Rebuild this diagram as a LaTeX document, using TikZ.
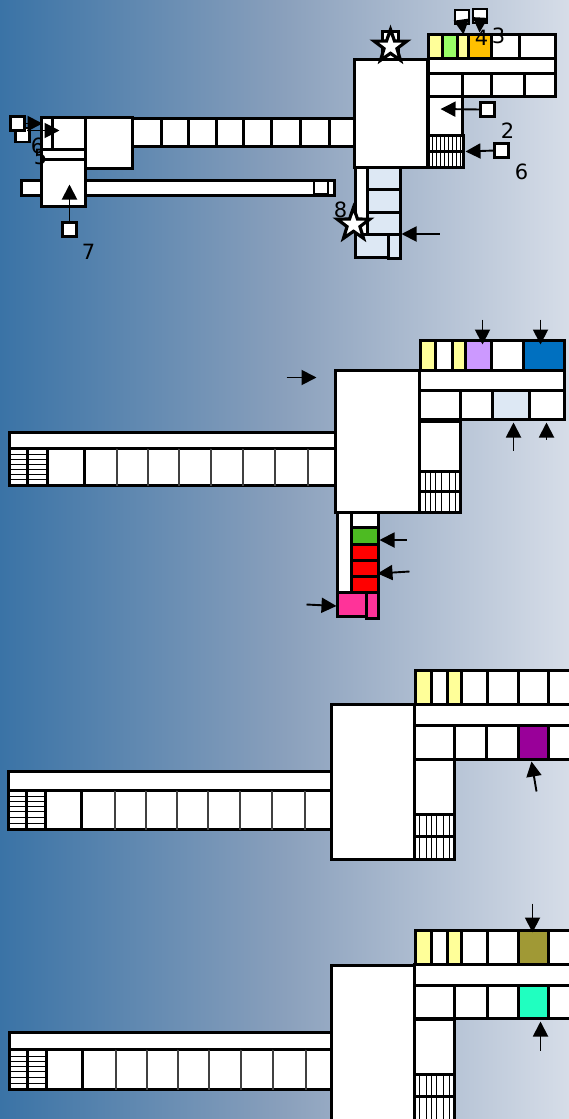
\documentclass[tikz,border=0pt]{standalone}
\usepackage{fontspec}
\setmainfont{DejaVu Sans}
\usetikzlibrary{arrows.meta,shapes.geometric}
\definecolor{bgL}{HTML}{3A73A6}
\definecolor{bgM}{HTML}{8AA0BC}
\definecolor{bgR}{HTML}{D6DDE8}
\definecolor{ylw}{HTML}{FFFF99}
\definecolor{paleblue}{HTML}{DDE8F4}
\definecolor{lime}{HTML}{99FF66}
\definecolor{amber}{HTML}{FFC000}
\definecolor{lilac}{HTML}{CC99FF}
\definecolor{deepblue}{HTML}{0070C0}
\definecolor{leaf}{HTML}{4DBB22}
\definecolor{hotpink}{HTML}{FF3399}
\definecolor{plum}{HTML}{990099}
\definecolor{olive2}{HTML}{A09935}
\definecolor{aqua2}{HTML}{20FFC0}
\tikzset{
  room/.style={draw=black,line width=2.9pt,fill=white,line join=miter},
  cell/.style={draw=black!75,line width=2pt,fill=white},
  tread/.style={draw=black,line width=1.8pt},
  sq/.style={draw=black,line width=2.8pt,fill=white,minimum size=14pt,inner sep=0pt,outer sep=0pt},
  arr/.style={draw=black,line width=1.9pt,-{Triangle[length=15pt,width=15pt]}},
  lbl/.style={font=\fontsize{21}{21}\selectfont,text=black,inner sep=0pt},
  mark star/.style={star,star points=5,star point ratio=2.5,draw=black,line width=3.2pt,fill=white,minimum size=34pt,inner sep=0pt}
}
\newcommand{\rmb}[5]{\path[room,fill=#5] (#1,#2) rectangle (#3,#4);}
\newcommand{\hrow}[3]{\foreach \a/\b/\c in {#3}{\path[room,fill=\c] (\a,#1) rectangle (\b,#2);}}
\newcommand{\wing}[6]{%
  \path[room] (#4,#1) rectangle (#5,#2);
  \path[room] (#4,#2) rectangle (#5,#3);
  \foreach \xx in {#6}{\draw[cell] (\xx,#2) -- (\xx,#3);}
}
\begin{document}
\begin{tikzpicture}[x=1pt,y=-1pt]
\useasboundingbox (0,0) rectangle (569,1119);
\begin{scope}
\clip (0,0) rectangle (569,1119);
\shade[left color=bgL,right color=bgR,middle color=bgM] (0,0) rectangle (569,1119);
\begin{scope}[shift={(-0.5pt,0.5pt)}]

% ---------- floor 1 ----------
\rmb{86}{118}{133}{169}{white}
\hrow{119}{147}{133/162/white,162/189/white,189/217/white,217/244/white,244/272/white,272/301/white,301/330/white,330/355/white}
\rmb{22}{181}{335}{196}{white}
\rmb{42}{118}{53}{150}{white}
\rmb{53}{118}{86}{150}{white}
\rmb{42}{150}{86}{160}{white}
\rmb{42}{160}{86}{207}{white}
\node[sq] (sqbar) at (321.5,188) {};
\rmb{383}{32}{399}{60}{white}
\rmb{355}{60}{428}{168}{white}
\hrow{35}{59}{429/443/ylw,443/458/lime,458/469/ylw,469/492/amber,492/520/white,520/556/white}
\rmb{429}{59}{556}{74}{white}
\hrow{74}{97}{429/463/white,463/492/white,492/525/white,525/556/white}
\rmb{429}{97}{463}{136}{white}
\rmb{429}{136}{464}{152}{white}
\rmb{429}{152}{464}{168}{white}
\foreach \xx in {433,437,441,445,449,453,457,461}{\draw[tread] (\xx,136) -- (\xx,168);}
\rmb{356}{168}{368}{235}{white}
\hrow{168}{190}{368/401/paleblue}
\hrow{190}{213}{368/401/paleblue}
\hrow{213}{235}{368/401/paleblue}
\rmb{356}{235}{389}{258}{paleblue}
\rmb{389}{235}{401}{259}{paleblue}

\node[mark star] (star1) at (391,47) {};
\node[mark star] (star2) at (354,225) {};

\node[sq] (sq3) at (462.5,17.5) {};
\node[sq] (sq4) at (480.5,16.5) {};
\node[sq] (sqr) at (488,110) {};
\node[sq] (sq2) at (502,151) {};
\node[sq] (sqb) at (23,135.5) {};
\node[sq] (sqa) at (18,124) {};
\node[sq] (sq7) at (70,230) {};
\coordinate (t3) at (464,35);
\coordinate (t4) at (480,33);
\coordinate (tr) at (441,109.5);
\coordinate (t2) at (466,152);
\coordinate (ta) at (43,124);
\coordinate (tb) at (60,131);
\coordinate (sb) at (27,131);
\coordinate (t7) at (70,185);
\coordinate (s8) at (440,234.5);
\coordinate (t8) at (402,234.5);
\draw[arr] (sq3.south) -- (t3);
\draw[arr] (sq4.south) -- (t4);
\draw[arr] (sqr.west) -- (tr);
\draw[arr] (sq2.west) -- (t2);
\draw[arr] (sqa.east) -- (ta);
\draw[arr] (sb) -- (tb);
\draw[arr] (sq7.north) -- (t7);
\draw[arr] (s8) -- (t8);

\node[lbl] (l4) at (482,38) {4};
\node[lbl] (l3) at (499,36) {3};
\node[lbl] (l2) at (508,131) {2};
\node[lbl] (l6) at (522,172) {6};
\node[lbl] (l6b) at (38,146) {6};
\node[lbl] (l5) at (41,157) {5};
\node[lbl] (l7) at (89,252) {7};
\node[lbl] (l8) at (341,210) {8};

% ---------- floor 2 ----------
\wing{433}{449}{486}{10}{336}{117,148,179,211,243,275,308}
\rmb{10}{449}{28}{486}{white}
\rmb{28}{449}{48}{486}{white}
\rmb{48}{449}{85}{486}{white}
\foreach \yy in {455,460,465,470,475,480}{\draw[tread] (10,\yy) -- (48,\yy);}
\draw[room,fill=none] (28,449) -- (28,486);
\rmb{336}{371}{420}{513}{white}
\hrow{341}{371}{421/436/ylw,436/453/white,453/466/ylw,466/492/lilac,492/524/white,524/565/deepblue}
\rmb{420}{371}{565}{391}{white}
\hrow{391}{420}{420/461/white,461/493/white,493/530/paleblue,530/565/white}
\rmb{420}{422}{461}{472}{white}
\rmb{420}{472}{461}{492}{white}
\rmb{420}{492}{461}{513}{white}
\foreach \xx in {426,431,436,442,450,456}{\draw[tread] (\xx,472) -- (\xx,513);}
\rmb{338}{513}{352}{593}{white}
\rmb{352}{513}{379}{528}{white}
\rmb{352}{528}{379}{545}{leaf}
\rmb{352}{545}{379}{561}{red}
\rmb{352}{561}{379}{577}{red}
\rmb{352}{577}{379}{593}{red}
\rmb{338}{593}{367}{617}{hotpink}
\rmb{367}{593}{379}{619}{hotpink}

\foreach \n/\sx/\sy/\tx/\ty in {a/287/378/317/378,b/483/320/483/345,c/541/320/541/345,d/514/451/514/423,e/547/440/547/423,f/407/540.5/380/540.5,g/410/572/378/574,h/307/605/337/606.5,i/537/792/532/762,j/533/904/533/933,k/541/1051/541/1022}{
  \coordinate (s\n) at (\sx,\sy);
  \coordinate (t\n) at (\tx,\ty);
}

% ---------- floor 3 ----------
\wing{772}{791}{830}{9}{332}{115,146,177,208,240,272,305}
\rmb{9}{791}{27}{830}{white}
\rmb{27}{791}{46}{830}{white}
\rmb{46}{791}{82}{830}{white}
\foreach \yy in {797,802,807,812,818,824}{\draw[tread] (9,\yy) -- (46,\yy);}
\draw[room,fill=none] (27,791) -- (27,830);
\rmb{332}{705}{415}{860}{white}
\hrow{671}{705}{416/432/ylw,432/448/white,448/462/ylw,462/488/white,488/519/white,519/549/white,549/580/white}
\rmb{415}{705}{580}{726}{white}
\hrow{726}{760}{415/455/white,455/487/white,487/519/white,519/549/plum,549/580/white}
\rmb{415}{760}{455}{815}{white}
\rmb{415}{815}{455}{837}{white}
\rmb{415}{837}{455}{860}{white}
\foreach \xx in {420,427,432,437,444,450}{\draw[tread] (\xx,815) -- (\xx,860);}

% ---------- floor 4 ----------
\wing{1033}{1050}{1090}{10}{332}{116,147,178,209,241,273,306}
\rmb{10}{1050}{28}{1090}{white}
\rmb{28}{1050}{47}{1090}{white}
\rmb{47}{1050}{83}{1090}{white}
\foreach \yy in {1057,1062,1067,1072,1078,1084}{\draw[tread] (10,\yy) -- (47,\yy);}
\draw[room,fill=none] (28,1050) -- (28,1090);
\rmb{332}{966}{415}{1130}{white}
\hrow{931}{965}{416/432/ylw,432/448/white,448/462/ylw,462/488/white,488/519/white,519/549/olive2,549/580/white}
\rmb{415}{965}{580}{986}{white}
\hrow{986}{1019}{415/455/white,455/488/white,488/519/white,519/549/aqua2,549/580/white}
\rmb{415}{1020}{455}{1075}{white}
\rmb{415}{1075}{455}{1097}{white}
\rmb{415}{1097}{455}{1130}{white}
\foreach \xx in {420,427,432,437,444,450}{\draw[tread] (\xx,1075) -- (\xx,1130);}

\foreach \n in {a,b,c,d,e,f,g,h,i,j,k}{\draw[arr] (s\n) -- (t\n);}
\end{scope}
\end{scope}
\end{tikzpicture}
\end{document}
